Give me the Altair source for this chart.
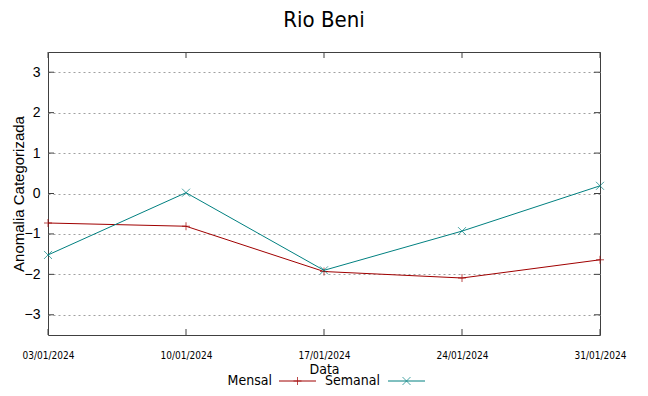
import altair as alt
import pandas as pd

datas = ["03/01/2024", "10/01/2024", "17/01/2024", "24/01/2024", "31/01/2024"]
mensal = [-0.73, -0.81, -1.93, -2.09, -1.64]
semanal = [-1.52, 0.02, -1.90, -0.93, 0.19]
series = ["Mensal", "Semanal"]
cores = ["#a00000", "#008080"]
y_ticks = [-3, -2, -1, 0, 1, 2, 3]

W, H = 552, 283
NARROW = "'Liberation Sans Narrow', 'DejaVu Sans Condensed', 'Liberation Sans', sans-serif"
SANS = "Liberation Sans"
FRAME = "#404040"

df = pd.DataFrame({
    "Data": datas * 2,
    "serie": ["Mensal"] * len(datas) + ["Semanal"] * len(datas),
    "valor": mensal + semanal,
})

plus = "M-1,0L1,0M0,-1L0,1"
cross = "M-1,-1L1,1M-1,1L1,-1"

xscale = alt.Scale(type="point", padding=0, domain=datas)
yscale = alt.Scale(domain=[-3.5, 3.5], nice=False, zero=False)
cscale = alt.Scale(domain=series, range=cores)
sscale = alt.Scale(domain=series, range=[plus, cross])

x_axis = alt.Axis(title="Data", labelAngle=0, ticks=False, domain=False, grid=False,
                  labelFont=NARROW, labelFontSize=10, labelColor="#000000",
                  labelPadding=15, titleFont=NARROW, titleFontSize=14,
                  titleFontWeight="normal", titlePadding=2, titleColor="#000000")
y_axis = alt.Axis(title="Anomalia Categorizada", values=y_ticks, ticks=False, domain=False,
                  grid=True, gridDash=[2, 3], gridColor="#a0a0a0", gridWidth=1,
                  labelFont=SANS, labelFontSize=14, labelColor="#000000", labelPadding=8,
                  titleFont=SANS, titleFontSize=15, titleFontWeight="normal",
                  titleColor="#000000", titleX=-30, titleY=H / 2, titleAngle=270,
                  titleAlign="center", titleBaseline="middle")

x_enc = alt.X("Data:N", scale=xscale, sort=datas, axis=x_axis)
y_enc = alt.Y("valor:Q", scale=yscale, axis=y_axis)

base = alt.Chart(df).encode(
    x=x_enc, y=y_enc,
    color=alt.Color("serie:N", scale=cscale, legend=None),
)
lines = base.mark_line(strokeWidth=1)
points = base.mark_point(filled=False, size=64, strokeWidth=1).encode(
    shape=alt.Shape("serie:N", scale=sscale, legend=None)
)

# inward tick marks on all four sides
ydf = pd.DataFrame({"valor": y_ticks})
xdf = pd.DataFrame({"Data": datas})
ytick_l = alt.Chart(ydf).mark_rule(color=FRAME, strokeWidth=1).encode(
    y=y_enc, x=alt.value(0), x2=alt.value(6))
ytick_r = alt.Chart(ydf).mark_rule(color=FRAME, strokeWidth=1).encode(
    y=y_enc, x=alt.value(W - 6), x2=alt.value(W))
xtick_b = alt.Chart(xdf).mark_rule(color=FRAME, strokeWidth=1).encode(
    x=x_enc, y=alt.value(H - 6), y2=alt.value(H))
xtick_t = alt.Chart(xdf).mark_rule(color=FRAME, strokeWidth=1).encode(
    x=x_enc, y=alt.value(0), y2=alt.value(6))

# gnuplot-style key: label, then line sample with marker
ldf = pd.DataFrame({"serie": series})
legend_layers = []
LY = 329
leg_pos = [(224, 231, 268), (332, 340, 377)]
for i, name in enumerate(series):
    tx, l0, l1 = leg_pos[i]
    d = ldf[ldf.serie == name]
    legend_layers.append(alt.Chart(d).mark_text(
        align="right", baseline="middle", font=NARROW, fontSize=14, color="#000000"
    ).encode(x=alt.value(tx), y=alt.value(LY), text="serie:N"))
    legend_layers.append(alt.Chart(d).mark_rule(color=cores[i], strokeWidth=1).encode(
        x=alt.value(l0), x2=alt.value(l1), y=alt.value(LY)))
    legend_layers.append(alt.Chart(d).mark_point(
        filled=False, size=64, strokeWidth=1, color=cores[i],
        shape=[plus, cross][i]
    ).encode(x=alt.value((l0 + l1) / 2), y=alt.value(LY)))

chart = alt.layer(
    lines, points, ytick_l, ytick_r, xtick_b, xtick_t, *legend_layers
).properties(
    width=W, height=H,
    title=alt.Title("Rio Beni", font=NARROW, fontSize=22, fontWeight="normal",
                    color="#000000", anchor="middle", offset=20),
    autosize=alt.AutoSizeParams(type="none"),
    padding={"left": 40, "top": 44, "right": 40, "bottom": 52},
).configure_view(
    stroke=FRAME, strokeWidth=1
)

chart.save("out.html", embed_options={"renderer": "svg", "actions": False})
